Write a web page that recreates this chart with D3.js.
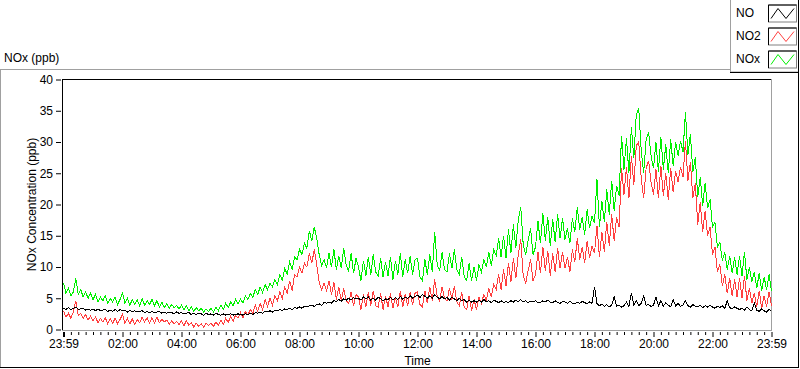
<!DOCTYPE html>
<html>
<head>
<meta charset="utf-8">
<script src="https://cdn.jsdelivr.net/npm/d3@7"></script>
<style>
  body { margin: 0; background: #fff; }
  svg { display: block; font-family: "Liberation Sans", Arial, sans-serif; font-size: 12px; }
</style>
</head>
<body>
<svg id="chart" width="800" height="369"></svg>
<script>
// readings every 5 minutes, starting 23:59 the day before
const startTime = new Date(2000, 0, 1, 23, 59);
const stepMinutes = 5;

const seriesNames = ['NO', 'NO2', 'NOx'];

const no = [
  3.4, 3.2, 3.5, 3.2, 3.4, 3.6, 3.2, 3.3, 3.4, 3.1, 3.3, 3.1,
  3.3, 3.0, 3.3, 3.0, 3.1, 3.2, 2.9, 3.1, 2.9, 3.2, 2.9, 3.2,
  3.0, 3.1, 2.8, 3.1, 2.8, 3.0, 2.8, 2.9, 3.0, 2.7, 2.9, 2.7,
  2.9, 2.7, 2.8, 2.9, 2.6, 2.8, 2.6, 2.8, 2.7, 2.5, 2.8, 2.6,
  2.7, 2.5, 2.6, 2.7, 2.4, 2.6, 2.4, 2.6, 2.5, 2.3, 2.6, 2.4,
  2.5, 2.3, 2.6, 2.4, 2.3, 2.5, 2.3, 2.4, 2.5, 2.3, 2.4, 2.5,
  2.4, 2.3, 2.5, 2.4, 2.6, 2.4, 2.7, 2.6, 2.8, 2.6, 2.9, 2.8,
  3.0, 2.8, 3.1, 3.0, 3.2, 3.0, 3.3, 3.2, 3.4, 3.2, 3.5, 3.4,
  3.6, 3.4, 3.7, 3.6, 3.8, 3.9, 3.7, 4.0, 4.1, 3.9, 4.3, 4.2,
  4.4, 4.2, 4.6, 4.5, 4.8, 4.5, 4.9, 4.7, 5.0, 4.7, 5.1, 4.9,
  5.0, 4.7, 5.2, 4.9, 5.2, 4.7, 5.0, 4.7, 5.2, 4.9, 4.6, 4.9,
  4.8, 5.1, 4.7, 5.1, 4.8, 5.3, 4.8, 5.2, 5.0, 5.4, 5.0, 5.3,
  5.5, 5.1, 5.6, 5.3, 5.0, 5.4, 5.0, 5.6, 5.2, 4.9, 5.3, 4.9,
  5.1, 4.7, 5.2, 4.9, 4.6, 5.0, 4.6, 4.8, 4.4, 4.7, 4.4, 4.6,
  4.4, 4.7, 4.4, 4.8, 4.4, 4.6, 4.3, 4.7, 4.5, 4.3, 4.6, 4.3,
  4.5, 4.3, 4.6, 4.4, 4.7, 4.4, 4.8, 4.4, 4.6, 4.3, 4.5, 4.4,
  4.6, 4.3, 4.3, 4.6, 4.4, 4.7, 4.4, 4.3, 4.6, 4.3, 4.2, 4.5,
  4.4, 4.2, 4.5, 4.2, 4.1, 4.4, 4.2, 4.5, 4.3, 4.1, 4.4, 4.2,
  6.8, 4.2, 3.8, 4.1, 3.7, 4.0, 3.6, 3.9, 5.2, 3.7, 3.9, 3.6,
  3.8, 4.4, 3.7, 5.8, 3.9, 4.6, 3.8, 4.2, 5.4, 3.9, 4.0, 3.7,
  3.9, 5.2, 3.8, 4.6, 3.7, 4.3, 3.9, 3.6, 4.8, 3.8, 4.2, 3.7,
  3.9, 4.6, 3.8, 3.6, 4.0, 3.7, 3.6, 3.9, 3.5, 3.8, 3.6, 3.9,
  3.6, 3.4, 3.7, 3.5, 3.8, 3.4, 4.6, 3.5, 3.3, 3.6, 3.4, 3.2,
  3.4, 3.1, 3.6, 3.2, 3.0, 4.2, 3.1, 2.9, 3.3, 3.0, 2.8, 3.2,
  2.9
];

const no2 = [
  3.0, 2.0, 2.6, 1.8, 2.8, 4.6, 2.2, 2.6, 1.8, 2.4, 1.5, 2.2,
  1.4, 2.0, 1.1, 1.8, 1.2, 1.9, 0.9, 1.7, 1.0, 1.8, 0.9, 1.6,
  2.4, 1.0, 1.8, 0.9, 1.7, 0.8, 1.6, 1.1, 2.0, 1.2, 1.9, 1.0,
  1.9, 1.0, 2.0, 1.1, 1.6, 1.2, 1.5, 0.8, 1.4, 0.9, 1.3, 0.8,
  1.4, 0.6, 1.4, 0.7, 1.1, 0.4, 1.0, 0.5, 0.9, 0.4, 1.0, 0.6,
  1.0, 0.5, 1.2, 0.7, 1.5, 0.8, 1.8, 1.1, 2.1, 1.3, 2.3, 1.8,
  2.7, 1.8, 2.9, 2.3, 3.2, 2.6, 3.9, 2.9, 4.2, 3.2, 4.8, 3.7,
  5.0, 3.9, 5.4, 4.6, 6.0, 5.0, 6.8, 5.8, 7.8, 6.2, 8.8, 8.4,
  10.0, 9.0, 10.6, 10.0, 12.2, 10.6, 12.8, 10.4, 7.6, 6.4, 7.4, 6.2,
  7.8, 5.6, 7.6, 4.8, 6.8, 4.6, 6.6, 4.6, 4.2, 6.0, 3.8, 5.6,
  5.2, 3.2, 5.6, 3.6, 6.0, 3.8, 6.2, 3.8, 3.6, 5.8, 3.2, 5.4,
  3.6, 5.8, 3.4, 5.2, 3.6, 6.2, 3.6, 5.6, 3.8, 6.0, 4.0, 5.8,
  6.0, 4.0, 3.6, 6.2, 4.2, 6.8, 4.6, 8.0, 5.4, 4.6, 6.8, 5.0,
  4.6, 6.6, 4.8, 7.0, 4.4, 3.8, 6.0, 3.6, 3.2, 5.4, 3.0, 4.8,
  3.2, 5.2, 4.2, 5.6, 4.6, 6.6, 5.2, 7.2, 6.4, 8.8, 6.4, 9.6,
  7.0, 10.6, 7.6, 11.4, 8.2, 12.0, 14.4, 8.6, 7.4, 9.4, 11.2, 7.8,
  8.8, 12.4, 9.0, 13.2, 9.4, 12.6, 8.6, 12.2, 9.2, 13.0, 9.8, 12.4,
  9.8, 11.6, 9.2, 12.8, 10.8, 14.6, 11.2, 13.2, 10.6, 14.2, 11.4, 13.4,
  12.2, 16.6, 11.6, 15.6, 12.4, 17.2, 13.4, 18.4, 14.2, 18.0, 16.4, 25.8,
  21.6, 26.0, 21.0, 27.8, 23.2, 29.4, 30.0, 24.2, 21.0, 25.8, 27.0, 23.6,
  21.6, 25.6, 21.0, 26.2, 21.4, 25.0, 20.8, 25.8, 22.0, 25.4, 23.6, 26.0,
  24.4, 30.2, 23.8, 26.8, 21.0, 23.4, 16.8, 20.4, 15.6, 19.0, 15.0, 16.4,
  12.0, 13.2, 9.2, 10.4, 7.0, 8.8, 5.8, 8.2, 5.4, 8.0, 5.2, 8.2,
  5.0, 8.6, 4.6, 6.6, 4.2, 5.8, 3.6, 6.2, 3.4, 5.4, 3.6, 6.0,
  3.8
];

const nox = [
  7.4, 5.8, 6.6, 5.4, 6.0, 8.2, 5.6, 6.4, 5.2, 6.0, 5.0, 5.8,
  4.8, 5.6, 4.4, 5.2, 4.6, 5.4, 4.2, 5.0, 4.4, 5.2, 4.0, 4.8,
  5.8, 4.2, 5.0, 3.9, 4.8, 4.0, 4.7, 3.8, 4.9, 3.9, 4.6, 4.0,
  4.8, 3.8, 4.6, 3.6, 4.4, 3.5, 4.1, 3.4, 4.0, 3.5, 3.8, 3.3,
  3.9, 3.1, 3.8, 3.0, 3.6, 2.9, 3.5, 3.0, 3.4, 2.8, 3.3, 2.9,
  3.4, 2.8, 3.6, 3.0, 3.9, 3.2, 4.2, 3.5, 4.4, 3.8, 4.8, 4.1,
  4.9, 4.2, 5.4, 4.8, 5.8, 5.1, 6.4, 5.6, 6.8, 5.9, 7.2, 6.4,
  7.4, 6.8, 8.0, 7.2, 8.8, 7.9, 9.8, 8.8, 10.8, 9.6, 11.6, 11.2,
  12.8, 12.0, 13.8, 13.0, 15.8, 14.2, 16.4, 14.6, 12.0, 10.2, 11.2, 9.8,
  12.2, 10.0, 12.8, 9.6, 11.8, 9.8, 13.0, 10.2, 9.4, 12.2, 9.0, 11.4,
  10.0, 7.8, 11.0, 8.6, 11.6, 8.8, 12.0, 9.2, 8.6, 11.4, 8.4, 10.8,
  8.6, 11.6, 8.0, 11.0, 8.8, 12.2, 8.4, 11.2, 9.0, 11.8, 8.8, 11.2,
  11.4, 8.4, 7.8, 11.2, 8.8, 12.0, 9.2, 15.6, 10.4, 9.4, 12.4, 9.6,
  9.2, 12.2, 9.8, 12.8, 9.6, 8.8, 11.6, 8.4, 7.8, 10.6, 7.8, 10.0,
  7.8, 10.4, 9.2, 11.2, 10.0, 12.4, 10.2, 12.8, 11.8, 14.6, 11.6, 15.0,
  11.4, 16.0, 12.2, 16.8, 13.0, 17.6, 19.6, 13.6, 12.0, 14.2, 16.2, 12.0,
  13.2, 17.4, 13.8, 18.6, 14.2, 18.0, 13.4, 17.6, 14.0, 18.4, 14.6, 17.8,
  14.4, 16.2, 13.8, 17.8, 15.6, 19.6, 16.0, 18.0, 15.2, 19.2, 16.2, 18.2,
  17.0, 24.0, 16.4, 20.6, 17.2, 22.4, 18.4, 23.8, 19.0, 23.0, 21.4, 31.0,
  25.6, 30.6, 25.0, 32.4, 27.4, 34.4, 35.4, 28.6, 25.0, 30.4, 31.6, 27.8,
  25.8, 30.0, 25.2, 30.8, 25.6, 29.6, 25.0, 30.4, 26.2, 30.0, 27.8, 30.2,
  28.4, 34.8, 28.0, 31.2, 25.2, 27.6, 21.2, 24.4, 19.8, 23.4, 19.4, 20.8,
  16.4, 17.2, 13.2, 14.0, 11.0, 12.4, 9.6, 11.8, 9.0, 11.6, 8.8, 11.8,
  8.6, 12.4, 8.0, 10.0, 7.6, 9.2, 6.6, 9.0, 6.2, 8.4, 6.4, 8.8,
  6.2
];

const yTicks = [0, 5, 10, 15, 20, 25, 30, 35, 40];
const xTickLabels = ['23:59', '02:00', '04:00', '06:00', '08:00', '10:00', '12:00',
                     '14:00', '16:00', '18:00', '20:00', '22:00', '23:59'];

const colors = { NO: '#000000', NO2: '#ff4040', NOx: '#00f000' };

const svg = d3.select('#chart');

const endTime = d3.timeMinute.offset(startTime, 24 * 60);
const x = d3.scaleTime().domain([startTime, endTime]).range([63.5, 771.5]);
const y = d3.scaleLinear().domain([0, 40]).range([329.5, 79.5]);

// outer panel
svg.append('line').attr('x1', 0).attr('x2', 730).attr('y1', 69.5).attr('y2', 69.5).attr('stroke', '#a0a0a0');
svg.append('line').attr('x1', 0.5).attr('x2', 0.5).attr('y1', 69).attr('y2', 368).attr('stroke', '#a0a0a0');
svg.append('line').attr('x1', 0).attr('x2', 799).attr('y1', 367.5).attr('y2', 367.5).attr('stroke', '#000');
svg.append('line').attr('x1', 798.5).attr('x2', 798.5).attr('y1', 72).attr('y2', 368).attr('stroke', '#000');

svg.append('text').attr('x', 4).attr('y', 62).text('NOx (ppb)');

// plot frame
svg.append('line').attr('x1', 62.5).attr('x2', 772).attr('y1', 79.5).attr('y2', 79.5).attr('stroke', '#000');
svg.append('line').attr('x1', 62.5).attr('x2', 62.5).attr('y1', 79).attr('y2', 331).attr('stroke', '#000');
svg.append('line').attr('x1', 771.5).attr('x2', 771.5).attr('y1', 79).attr('y2', 331).attr('stroke', '#a0a0a0');
svg.append('line').attr('x1', 62).attr('x2', 772).attr('y1', 330.5).attr('y2', 330.5).attr('stroke', '#a0a0a0');

// series
const timeAt = i => d3.timeMinute.offset(startTime, i * stepMinutes);
const line = d3.line().x((d, i) => x(timeAt(i))).y(d => y(d));
const plot = svg.append('g');
[['NOx', nox], ['NO2', no2], ['NO', no]].forEach(([name, vals]) => {
  plot.append('path')
    .datum(vals)
    .attr('d', line)
    .attr('fill', 'none')
    .attr('stroke', colors[name])
    .attr('stroke-width', 1)
    .attr('shape-rendering', 'crispEdges');
});

// y axis
const yAxis = svg.append('g')
  .attr('transform', 'translate(61,0)')
  .call(d3.axisLeft(y).tickValues(yTicks).tickSize(5).tickPadding(3));
yAxis.select('.domain').remove();
yAxis.selectAll('text').attr('font-size', 12).attr('font-family', null).attr('fill', '#000');

svg.append('text')
  .attr('transform', `translate(36,${(y(0) + y(40)) / 2}) rotate(-90)`)
  .attr('text-anchor', 'middle')
  .text('NOx Concentration (ppb)');

// x axis, majors every 2 hours and minors every 15 minutes
const majorTimes = xTickLabels.map((d, i) => d3.timeMinute.offset(startTime, i * 120));
const minorTimes = d3.range(0, 97).filter(k => k % 8 !== 0).map(k => d3.timeMinute.offset(startTime, k * 15));

const xMinor = svg.append('g')
  .attr('transform', 'translate(0,332)')
  .call(d3.axisBottom(x).tickValues(minorTimes).tickSize(3).tickFormat(''));
xMinor.select('.domain').remove();

const xMajor = svg.append('g')
  .attr('transform', 'translate(0,332)')
  .call(d3.axisBottom(x).tickValues(majorTimes).tickSize(5).tickPadding(2)
    .tickFormat((d, i) => xTickLabels[i]));
xMajor.select('.domain').remove();
xMajor.selectAll('text').attr('font-size', 12).attr('font-family', null).attr('fill', '#000');
xMajor.selectAll('.tick line').filter((d, i) => i === 0).attr('stroke-width', 2);

svg.append('text')
  .attr('x', (x.range()[0] + x.range()[1]) / 2)
  .attr('y', 365)
  .attr('text-anchor', 'middle')
  .text('Time');

// legend
const legend = svg.append('g');
legend.append('rect').attr('x', 730.5).attr('y', -1).attr('width', 68).attr('height', 73)
  .attr('fill', '#fff').attr('stroke', '#a0a0a0');
legend.append('line').attr('x1', 730).attr('x2', 799).attr('y1', 72.5).attr('y2', 72.5).attr('stroke', '#000');
legend.append('line').attr('x1', 798.5).attr('x2', 798.5).attr('y1', 0).attr('y2', 73).attr('stroke', '#000');

seriesNames.forEach((name, i) => {
  const cy = 12.5 + i * 23;
  legend.append('text').attr('x', 736).attr('y', cy + 4.5).text(name);
  const sx = 768, sy = cy - 8;
  legend.append('rect').attr('x', sx + 0.5).attr('y', sy + 0.5).attr('width', 28).attr('height', 17)
    .attr('fill', '#fff').attr('stroke', '#808080');
  legend.append('path')
    .attr('d', `M${sx + 0.5},${sy + 17.5}V${sy + 0.5}H${sx + 28.5}`)
    .attr('fill', 'none').attr('stroke', '#000');
  legend.append('path')
    .attr('d', d3.line()([[sx + 3, sy + 14], [sx + 10, sy + 4], [sx + 18, sy + 14], [sx + 26, sy + 4]]))
    .attr('fill', 'none').attr('stroke', colors[name]).attr('stroke-width', 1);
});
</script>
</body>
</html>
